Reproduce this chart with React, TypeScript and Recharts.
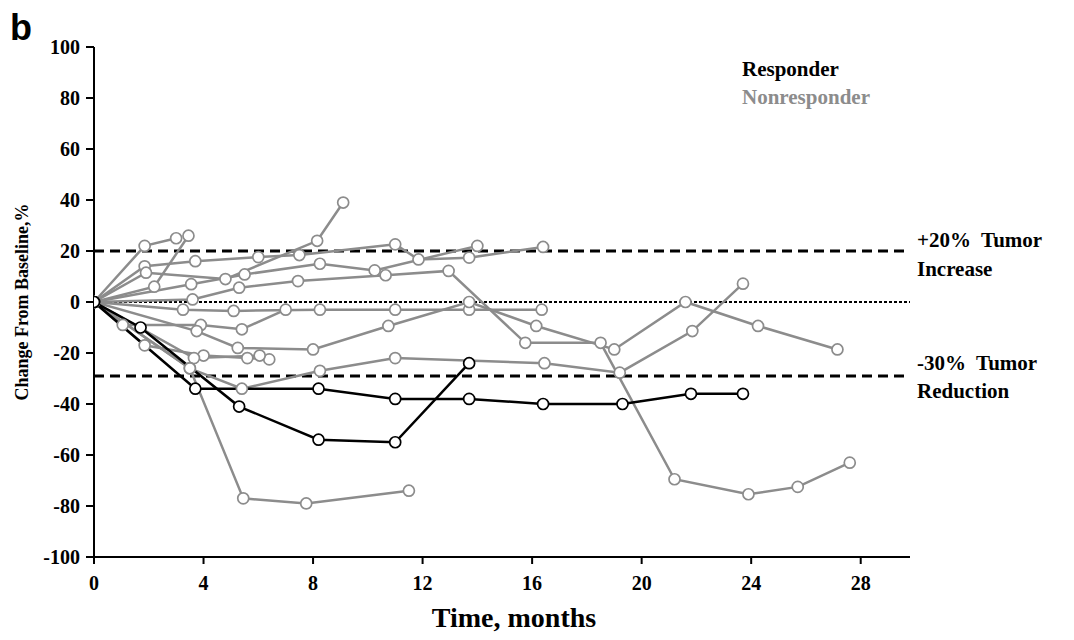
import { LineChart, Line, XAxis, YAxis, ReferenceLine } from "recharts";

type Pt = [number, number];

// time (months), change from baseline (%)
const responderA: Pt[] = [[0, 0], [3.7, -34], [8.2, -34], [11, -38], [13.7, -38], [16.4, -40], [19.3, -40], [21.8, -36], [23.7, -36]];
const responderB: Pt[] = [[0, 0], [1.7, -10], [5.3, -41], [8.2, -54], [11, -55], [13.7, -24]];

const nonresp01: Pt[] = [[0, 0], [1.85, 22], [3.0, 25]];
const nonresp02: Pt[] = [[0, 0], [2.2, 6], [3.45, 26]];
const nonresp03: Pt[] = [[0, 0], [1.85, 14], [3.7, 16], [6.0, 17.6], [7.5, 18.4], [11, 22.6], [11.85, 16.7], [13.7, 17.4], [16.4, 21.6]];
const nonresp04: Pt[] = [[0, 0], [1.9, 11.5], [4.8, 9], [8.15, 24], [9.1, 39]];
const nonresp05: Pt[] = [[0, 0], [3.55, 7], [5.5, 10.8], [8.25, 15], [10.25, 12.4], [14, 22]];
const nonresp06: Pt[] = [[0, 0], [3.6, 1], [5.3, 5.6], [7.45, 8.2], [10.65, 10.5], [12.95, 12.2], [15.75, -16], [18.5, -16], [21.2, -69.5], [23.9, -75.4], [25.7, -72.5], [27.6, -63]];
const nonresp07: Pt[] = [[0, 0], [3.25, -3], [5.1, -3.5], [8.25, -3], [11, -3], [13.7, -3], [16.35, -3]];
const nonresp08: Pt[] = [[0, 0], [1.05, -9], [3.9, -9], [5.4, -10.7], [7.0, -3]];
const nonresp09: Pt[] = [[0, 0], [3.75, -11.4], [5.25, -18], [8.0, -18.6], [10.75, -9.4], [13.7, 0], [16.15, -9.4], [19.0, -18.6], [21.6, 0], [24.25, -9.4], [27.15, -18.6]];
const nonresp10: Pt[] = [[0, 0], [1.85, -17], [4.0, -21], [5.6, -22], [6.4, -22.5]];
const nonresp11: Pt[] = [[0, 0], [3.65, -22], [6.05, -21]];
const nonresp12: Pt[] = [[0, 0], [3.5, -26], [5.4, -34], [8.25, -27], [11, -22], [16.45, -24], [19.2, -27.7], [21.85, -11.4], [23.7, 7.2]];
const nonresp13: Pt[] = [[0, 0], [3.5, -26], [5.45, -77], [7.75, -79], [11.5, -74]];

const nonresponders = [nonresp01, nonresp02, nonresp03, nonresp04, nonresp05, nonresp06, nonresp07, nonresp08, nonresp09, nonresp10, nonresp11, nonresp12, nonresp13];
const responders = [responderA, responderB];

const xTicks = [0, 4, 8, 12, 16, 20, 24, 28];
const yTicks = [-100, -80, -60, -40, -20, 0, 20, 40, 60, 80, 100];

const GRAY = "#8c8c8c";
const SERIF = "'Liberation Serif', 'Times New Roman', serif";

const toRows = (pts: Pt[]) => pts.map(([t, v]) => ({ t, v }));

const txt = (extra: React.CSSProperties): React.CSSProperties => ({
  position: "absolute",
  fontFamily: SERIF,
  fontWeight: 700,
  whiteSpace: "pre",
  lineHeight: 1,
  ...extra,
});

export default function App() {
  const tickStyle = { fontFamily: SERIF, fontWeight: 700, fontSize: 20, fill: "#000" };
  return (
    <div style={{ position: "absolute", left: 0, top: 0, width: 1074, height: 640, background: "#fff" }}>
      <LineChart width={1074} height={640} margin={{ top: 47, right: 164, bottom: 0, left: 0 }}>
        <XAxis
          type="number"
          dataKey="t"
          domain={[0, 29.8]}
          ticks={xTicks}
          allowDataOverflow
          height={83}
          stroke="#000"
          strokeWidth={2}
          tickSize={7}
          tickMargin={12}
          tick={tickStyle}
        />
        <YAxis
          type="number"
          dataKey="v"
          domain={[-100, 100]}
          ticks={yTicks}
          width={94}
          stroke="#000"
          strokeWidth={2}
          tickSize={8}
          tickMargin={6}
          tick={tickStyle}
        />
        <ReferenceLine y={20} stroke="#000" strokeWidth={3} strokeDasharray="10 6" />
        <ReferenceLine y={0} stroke="#000" strokeWidth={2} strokeDasharray="3 2" />
        <ReferenceLine y={-29} stroke="#000" strokeWidth={3} strokeDasharray="10 6" />
        {nonresponders.map((s, i) => (
          <Line
            key={`n${i}`}
            data={toRows(s)}
            dataKey="v"
            type="linear"
            stroke={GRAY}
            strokeWidth={2.5}
            dot={{ r: 5.5, stroke: GRAY, strokeWidth: 1.7, fill: "#fff" }}
            isAnimationActive={false}
          />
        ))}
        {responders.map((s, i) => (
          <Line
            key={`r${i}`}
            data={toRows(s)}
            dataKey="v"
            type="linear"
            stroke="#000"
            strokeWidth={2.5}
            dot={{ r: 5.5, stroke: "#000", strokeWidth: 1.7, fill: "#fff" }}
            isAnimationActive={false}
          />
        ))}
      </LineChart>

      <div style={{ ...txt({ left: 10, top: 10, fontSize: 36 }), fontFamily: "'Liberation Sans', Arial, sans-serif" }}>b</div>
      <div style={txt({ left: 742, top: 59, fontSize: 21, color: "#000" })}>Responder</div>
      <div style={txt({ left: 742, top: 87, fontSize: 21, color: GRAY })}>Nonresponder</div>
      <div style={txt({ left: 917, top: 230, fontSize: 21 })}>{"+20%  Tumor"}</div>
      <div style={txt({ left: 917, top: 259, fontSize: 21 })}>Increase</div>
      <div style={txt({ left: 917, top: 353, fontSize: 21 })}>{"-30%  Tumor"}</div>
      <div style={txt({ left: 917, top: 381, fontSize: 21 })}>Reduction</div>
      <div
        style={txt({
          left: 22,
          top: 302,
          fontSize: 18,
          transform: "translate(-50%, -50%) rotate(-90deg)",
        })}
      >
        Change From Baseline,%
      </div>
      <div style={txt({ left: 514, top: 618, fontSize: 28, transform: "translate(-50%, -50%)" })}>Time, months</div>
    </div>
  );
}
